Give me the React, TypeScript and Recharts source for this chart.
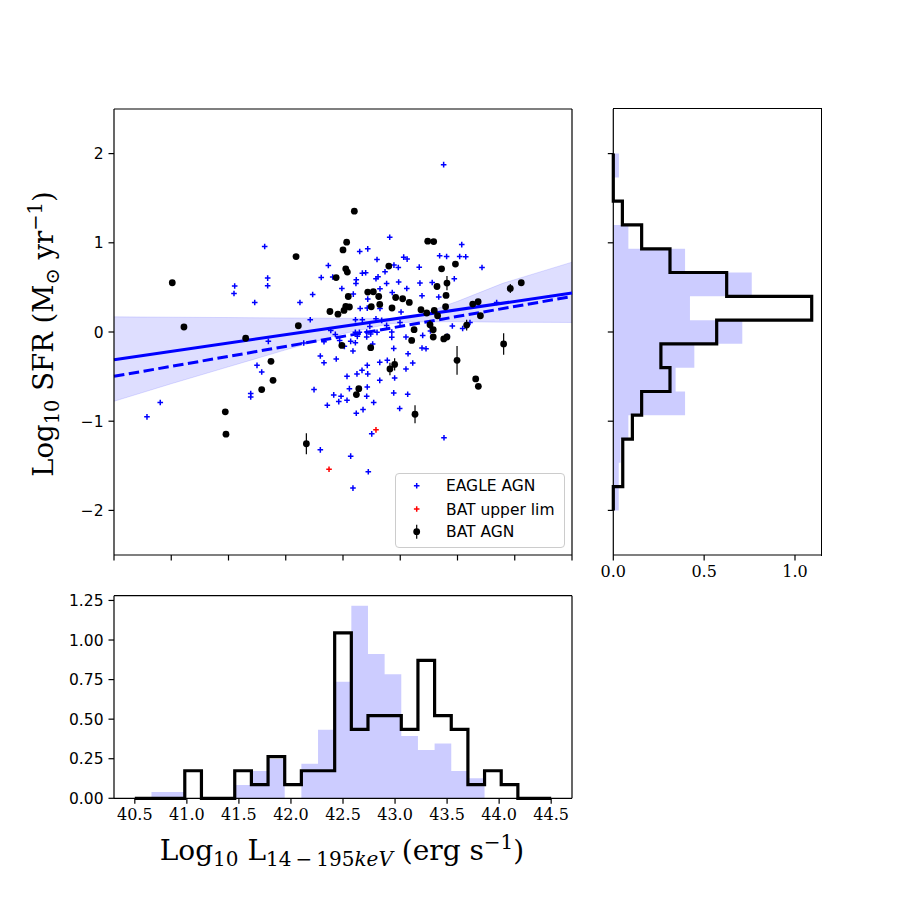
import React from 'react';
import {
  ComposedChart,
  Scatter,
  Line,
  Area,
  XAxis,
  YAxis,
  ErrorBar,
  ReferenceLine,
  Legend,
} from 'recharts';

// ---------------- ticks ----------------
const MAIN_X_TICKS = [40.5, 41.0, 41.5, 42.0, 42.5, 43.0, 43.5, 44.0, 44.5];
const SFR_TICKS = [-2, -1, 0, 1, 2];
const LUM_TICKS = [40.5, 41.0, 41.5, 42.0, 42.5, 43.0, 43.5, 44.0, 44.5];
const LUM_DENS_TICKS = [0, 0.25, 0.5, 0.75, 1.0, 1.25];
const SFR_DENS_TICKS = [0, 0.5, 1.0];

// ---------------- scatter data (log L, log SFR) ----------------
const eagleAgn: [number, number][] = [
  [41.816, 0.958], [41.554, 0.515], [41.548, 0.432], [41.842, 0.604], [41.842, 0.518],
  [41.729, 0.331], [42.124, 0.331], [42.235, 0.421], [42.214, 0.138], [42.31, 0.611],
  [42.372, 0.745], [42.41, 0.616], [42.49, 0.488], [41.848, -0.105], [42.157, -0.123],
  [42.613, 0.544], [42.616, 0.585], [42.646, 0.902], [42.716, 0.932], [42.669, 0.66],
  [42.698, 0.664], [42.59, 0.425], [42.65, 0.264], [42.609, 0.138], [42.669, 0.138],
  [42.712, 0.268], [42.393, 0.018], [42.433, -0.027], [42.334, -0.109], [42.471, -0.094],
  [42.608, -0.004], [42.625, -0.049], [42.643, -0.004], [42.707, 0.0], [42.707, -0.056],
  [42.567, -0.105], [42.608, -0.12], [42.512, -0.161],
  [43.379, 1.876], [42.908, 1.063], [43.537, 0.98], [43.344, 0.854], [43.405, 0.846],
  [43.519, 0.846], [43.572, 0.843], [42.797, 0.813], [43.03, 0.839], [43.06, 0.817],
  [43.714, 0.723], [43.166, 0.727], [42.945, 0.75], [42.983, 0.723], [43.472, 0.597],
  [42.788, 0.597], [42.806, 0.619], [42.867, 0.675], [42.881, 0.544], [42.986, 0.56],
  [43.057, 0.488], [42.93, 0.443], [43.172, 0.548], [43.279, 0.555], [43.19, 0.406],
  [43.336, 0.392], [42.823, 0.264], [43.007, 0.224], [42.788, 0.149], [42.838, 0.13],
  [42.998, 0.107], [43.455, 0.067], [43.545, 0.04], [43.609, 0.107], [43.842, 0.331],
  [42.823, 0.485], [42.881, 0.074], [43.411, -0.049], [43.19, -0.179], [42.734, 0.063],
  [42.742, -0.022], [43.264, 0.011],
  [43.05, -0.056], [43.196, -0.038], [43.225, -0.187], [43.068, -0.243], [43.109, -0.347],
  [43.05, -0.414], [42.943, -0.184], [42.926, -0.06], [42.926, 0.0], [42.797, -0.004],
  [42.821, -0.34], [42.887, -0.318], [42.768, -0.791], [42.821, -0.542], [42.951, -0.515],
  [42.943, -0.683], [43.065, -0.698], [42.995, -0.858], [42.751, -1.142], [43.382, -1.186],
  [42.721, -1.567],
  [40.788, -0.951], [40.904, -0.791], [41.694, -0.69], [41.694, -0.728], [41.749, -0.374],
  [41.79, -0.448], [42.247, -0.646], [42.302, -0.269], [42.334, -0.344], [42.363, -0.821],
  [42.419, -0.705], [42.463, -0.78], [42.483, -0.72], [42.535, -0.765], [42.441, -0.302],
  [42.535, -0.497], [42.302, -1.321], [42.556, -0.635], [42.622, -0.47], [42.666, -0.43],
  [42.712, -0.374], [42.716, -0.47], [42.587, -0.213], [42.712, -0.616], [42.707, -0.72],
  [42.616, -0.911], [42.675, -0.87], [42.567, -1.392], [42.587, -1.75], [42.716, 0.369],
  [42.759, -0.134],
];

const batUpperLim: [number, number][] = [
  [42.378, -1.538],
  [42.788, -1.097],
];

// x, y, error
const batAgn: [number, number, number][] = [
  [41.009, 0.552, 0], [41.111, 0.056, 0], [41.65, -0.07, 0], [42.09, 0.846, 0],
  [42.11, 0.07, 0], [42.532, 1.007, 0], [42.5, 0.92, 0], [42.524, 0.708, 0],
  [42.538, 0.672, 0], [42.44, 0.61, 0], [42.546, 0.398, 0], [42.386, 0.23, 0],
  [42.456, 0.2, 0], [42.509, 0.242, 0], [42.524, 0.287, 0], [42.556, 0.28, 0],
  [42.49, -0.15, 0.03], [42.599, 1.354, 0], [42.716, 0.448, 0], [43.24, 1.018, 0],
  [43.292, 1.014, 0], [43.482, 0.761, 0], [42.9, 0.739, 0], [43.361, 0.708, 0],
  [43.408, 0.548, 0.08], [43.321, 0.51, 0], [43.961, 0.488, 0.05], [44.057, 0.552, 0],
  [43.4, 0.41, 0], [42.765, 0.451, 0], [42.812, 0.398, 0], [42.96, 0.387, 0],
  [43.021, 0.373, 0], [43.079, 0.331, 0], [43.633, 0.313, 0], [43.68, 0.339, 0],
  [43.7, 0.182, 0], [42.747, 0.283, 0], [42.821, 0.309, 0], [42.928, 0.269, 0],
  [43.181, 0.25, 0], [43.231, 0.213, 0], [43.297, 0.242, 0], [43.326, 0.182, 0],
  [43.26, 0.082, 0.05], [43.288, 0.026, 0.03], [43.121, 0.026, 0], [43.1, -0.094, 0],
  [43.288, -0.056, 0.03], [43.38, -0.078, 0], [43.408, -0.056, 0], [42.742, -0.176, 0],
  [43.903, -0.134, 0.12], [43.58, 0.078, 0.06], [43.396, 0.283, 0], [41.871, -0.329, 0],
  [41.889, -0.542, 0], [41.79, -0.646, 0], [41.472, -0.895, 0], [41.478, -1.146, 0],
  [42.18, -1.253, 0.117], [42.638, -0.635, 0], [42.617, -0.702, 0], [43.496, -0.318, 0.16],
  [43.659, -0.526, 0], [43.682, -0.609, 0], [42.951, -0.363, 0.07], [42.91, -0.414, 0.07],
  [43.129, -0.922, 0.1],
];

// ---------------- regression fits ----------------
const fitX = [40.5, 44.5];
const fitSolid = [-0.31, 0.436];
const fitDashed = [-0.497, 0.398];
const bandX = [40.5, 41.0, 41.5, 42.0, 42.5, 42.9, 43.1, 43.5, 43.9, 44.5];
const bandLo = [-0.777, -0.58, -0.39, -0.2, -0.02, 0.09, 0.112, 0.115, 0.11, 0.107];
const bandHi = [0.17, 0.166, 0.162, 0.158, 0.154, 0.152, 0.16, 0.344, 0.548, 0.783];

// ---------------- luminosity histogram (density) ----------------
const lumEdges = [
  40.5, 40.66, 40.82, 40.98, 41.14, 41.3, 41.46, 41.62, 41.78, 41.94, 42.1, 42.26, 42.42,
  42.58, 42.74, 42.9, 43.06, 43.22, 43.38, 43.54, 43.7, 43.86, 44.02, 44.18, 44.34, 44.5,
];
const lumEagle = [
  0, 0.04, 0.04, 0, 0, 0, 0.084, 0.173, 0.248, 0, 0.218, 0.433, 0.736, 1.216, 0.911,
  0.783, 0.393, 0.305, 0.347, 0.172, 0.126, 0, 0, 0, 0,
];
const lumBat = [
  0, 0, 0, 0.174, 0, 0, 0.174, 0.087, 0.263, 0.087, 0.174, 0.174, 1.045, 0.435, 0.522,
  0.522, 0.435, 0.871, 0.522, 0.435, 0.087, 0.174, 0.087, 0, 0,
];

// ---------------- SFR histogram (density), bins bottom -> top ----------------
const sfrEdges = [
  -2.0, -1.733, -1.467, -1.2, -0.933, -0.667, -0.4, -0.133, 0.133, 0.4, 0.667, 0.933,
  1.2, 1.467, 1.733, 2.0,
];
const sfrEagle = [0.03, 0.03, 0.04, 0.083, 0.395, 0.343, 0.446, 0.71, 0.422, 0.762, 0.395, 0.083, 0, 0, 0.031];
const sfrBat = [0, 0.052, 0.052, 0.105, 0.156, 0.312, 0.262, 0.569, 1.092, 0.624, 0.312, 0.156, 0.05, 0, 0];

// ---------------- derived tables ----------------
const eagleData = eagleAgn.map(([x, y]) => ({ x, y }));
const upperData = batUpperLim.map(([x, y]) => ({ x, y }));
const batData = batAgn.map(([x, y, err]) => ({ x, y, err }));

const fitData = bandX.map((x, i) => {
  const k = fitX.indexOf(x);
  return {
    x,
    band: [bandLo[i], bandHi[i]],
    solid: k >= 0 ? fitSolid[k] : null,
    dashed: k >= 0 ? fitDashed[k] : null,
  };
});

const lumData = lumEdges.map((x, i) => {
  const k = Math.min(i, lumEagle.length - 1);
  return { x, eagle: lumEagle[k], bat: lumBat[k] };
});

const sfrData = sfrEdges.map((y, i) => {
  const k = Math.min(i, sfrEagle.length - 1);
  return { y, eagle: sfrEagle[k], bat: sfrBat[k] };
});

// ---------------- styles ----------------
const BLUE = '#0000ff';
const SERIF = "'DejaVu Serif', serif";
const SANS = "'DejaVu Sans', sans-serif";
const TICK_LEN = 5.5;
const AXIS_LINE = { stroke: '#000', strokeWidth: 1.2 };
const TICK_LINE = { stroke: '#000', strokeWidth: 1.2 };
const serifTick = { fontFamily: SERIF, fontSize: 16, fill: '#000' };
const sansTick = { fontFamily: SANS, fontSize: 15.5, fill: '#000' };

const fmtSigned = (v: number) => (v < 0 ? `\u2212${Math.abs(v)}` : `${v}`);
const blank = () => '';

const makePlus = (color: string) => (props: any) => {
  const { cx, cy } = props;
  if (cx == null || cy == null) return <g />;
  const h = 2.8;
  return (
    <path
      d={`M${cx - h},${cy}H${cx + h}M${cx},${cy - h}V${cy + h}`}
      stroke={color}
      strokeWidth={1.5}
      fill="none"
    />
  );
};
const BluePlus = makePlus(BLUE);
const RedPlus = makePlus('#ff0000');
const BlackDot = (props: any) => {
  const { cx, cy } = props;
  if (cx == null || cy == null) return <g />;
  return <circle cx={cx} cy={cy} r={3.4} fill="#000" />;
};

const LegendBox = () => {
  const rows = [12.7, 36, 58.7];
  return (
    <div
      style={{
        width: 170,
        height: 75,
        boxSizing: 'border-box',
        border: '1px solid #cccccc',
        borderRadius: 4,
        background: 'rgba(255,255,255,0.8)',
        position: 'relative',
      }}
    >
      <svg width={170} height={75} style={{ position: 'absolute', left: -1, top: -1 }}>
        <path d={`M${21.7 - 2.8},${rows[0]}h5.6M21.7,${rows[0] - 2.8}v5.6`} stroke={BLUE} strokeWidth={1.5} />
        <text x={51} y={rows[0] + 5.6} fontFamily={SANS} fontSize={15.5} fill="#000">EAGLE AGN</text>
        <path d={`M${21.7 - 2.8},${rows[1]}h5.6M21.7,${rows[1] - 2.8}v5.6`} stroke="#ff0000" strokeWidth={1.5} />
        <text x={51} y={rows[1] + 5.6} fontFamily={SANS} fontSize={15.5} fill="#000">BAT upper lim</text>
        <line x1={21.7} x2={21.7} y1={rows[2] - 7} y2={rows[2] + 7} stroke="#000" strokeWidth={1.2} />
        <circle cx={21.7} cy={rows[2]} r={3.4} fill="#000" />
        <text x={51} y={rows[2] + 5.6} fontFamily={SANS} fontSize={15.5} fill="#000">BAT AGN</text>
      </svg>
    </div>
  );
};

export default function App() {
  return (
    <div style={{ position: 'absolute', left: 0, top: 0, width: 913, height: 913, background: '#fff' }}>
      {/* main scatter panel */}
      <div style={{ position: 'absolute', left: 0, top: 0 }}>
        <ComposedChart
          width={600}
          height={580}
          data={fitData}
          margin={{ top: 109, right: 28, bottom: 5, left: 64 }}
        >
          <XAxis
            dataKey="x"
            type="number"
            domain={[40.5, 44.5]}
            ticks={MAIN_X_TICKS}
            interval={0}
            tickFormatter={blank}
            tickSize={TICK_LEN}
            height={20}
            axisLine={AXIS_LINE}
            tickLine={TICK_LINE}
          />
          <YAxis
            dataKey="y"
            type="number"
            domain={[-2.5, 2.5]}
            ticks={SFR_TICKS}
            interval={0}
            width={50}
            tickSize={TICK_LEN}
            tickMargin={5}
            tick={sansTick}
            tickFormatter={fmtSigned}
            axisLine={AXIS_LINE}
            tickLine={TICK_LINE}
          />
          <ReferenceLine x={44.5} stroke="#000" strokeWidth={1.2} ifOverflow="visible" />
          <ReferenceLine y={2.5} stroke="#000" strokeWidth={1.2} ifOverflow="visible" />
          <Area
            dataKey="band"
            type="linear"
            fill={BLUE}
            fillOpacity={0.13}
            stroke={BLUE}
            strokeOpacity={0.12}
            strokeWidth={1}
            isAnimationActive={false}
          />
          <Scatter data={eagleData} shape={BluePlus} isAnimationActive={false} />
          <Line
            dataKey="solid"
            type="linear"
            stroke={BLUE}
            strokeWidth={3}
            dot={false}
            connectNulls
            isAnimationActive={false}
          />
          <Line
            dataKey="dashed"
            type="linear"
            stroke={BLUE}
            strokeWidth={3}
            strokeDasharray="10.5 4.5"
            dot={false}
            connectNulls
            isAnimationActive={false}
          />
          <Scatter data={upperData} shape={RedPlus} isAnimationActive={false} />
          <Scatter data={batData} shape={BlackDot} isAnimationActive={false}>
            <ErrorBar dataKey="err" direction="y" width={0} stroke="#000" strokeWidth={1.2} />
          </Scatter>
          <Legend
            layout="vertical"
            align="center"
            verticalAlign="middle"
            content={() => <LegendBox />}
            wrapperStyle={{ left: 395, top: 473, width: 170, height: 75 }}
          />
        </ComposedChart>
      </div>

      {/* right SFR histogram */}
      <div style={{ position: 'absolute', left: 560, top: 0 }}>
        <ComposedChart
          layout="vertical"
          width={290}
          height={600}
          data={sfrData}
          margin={{ top: 109, right: 28.3, bottom: 15, left: 43.3 }}
        >
          <XAxis
            type="number"
            domain={[0, 1.147]}
            ticks={SFR_DENS_TICKS}
            interval={0}
            height={30}
            tickSize={TICK_LEN}
            tickMargin={5}
            tick={serifTick}
            tickFormatter={(v: number) => v.toFixed(1)}
            axisLine={AXIS_LINE}
            tickLine={TICK_LINE}
          />
          <YAxis
            dataKey="y"
            type="number"
            reversed
            domain={[-2.5, 2.5]}
            ticks={SFR_TICKS}
            interval={0}
            width={10}
            tickSize={TICK_LEN}
            tickFormatter={blank}
            axisLine={AXIS_LINE}
            tickLine={TICK_LINE}
          />
          <Area
            dataKey="eagle"
            type="stepBefore"
            fill={BLUE}
            fillOpacity={0.2}
            stroke="none"
            isAnimationActive={false}
          />
          <Line
            dataKey="bat"
            type="stepBefore"
            stroke="#000"
            strokeWidth={3.2}
            dot={false}
            isAnimationActive={false}
          />
        </ComposedChart>
      </div>
      {/* top and right spines of the SFR histogram frame */}
      <div
        style={{
          position: 'absolute',
          left: 612.7,
          top: 108.4,
          width: 209.6,
          height: 447.2,
          boxSizing: 'border-box',
          borderTop: '1.2px solid #000',
          borderRight: '1.2px solid #000',
          pointerEvents: 'none',
        }}
      />

      {/* bottom luminosity histogram */}
      <div style={{ position: 'absolute', left: 0, top: 560 }}>
        <ComposedChart
          width={600}
          height={300}
          data={lumData}
          margin={{ top: 35.7, right: 28, bottom: 31.7, left: 64 }}
        >
          <XAxis
            dataKey="x"
            type="number"
            domain={[40.3, 44.7]}
            ticks={LUM_TICKS}
            interval={0}
            height={30}
            tickSize={TICK_LEN}
            tickMargin={5}
            tick={serifTick}
            tickFormatter={(v: number) => v.toFixed(1)}
            axisLine={AXIS_LINE}
            tickLine={TICK_LINE}
          />
          <YAxis
            type="number"
            domain={[0, 1.28]}
            ticks={LUM_DENS_TICKS}
            interval={0}
            width={50}
            tickSize={TICK_LEN}
            tickMargin={5}
            tick={sansTick}
            tickFormatter={(v: number) => v.toFixed(2)}
            axisLine={AXIS_LINE}
            tickLine={TICK_LINE}
          />
          <ReferenceLine x={44.7} stroke="#000" strokeWidth={1.2} ifOverflow="visible" />
          <ReferenceLine y={1.28} stroke="#000" strokeWidth={1.2} ifOverflow="visible" />
          <Area
            dataKey="eagle"
            type="stepAfter"
            fill={BLUE}
            fillOpacity={0.2}
            stroke="none"
            isAnimationActive={false}
          />
          <Line
            dataKey="bat"
            type="stepAfter"
            stroke="#000"
            strokeWidth={3.2}
            dot={false}
            isAnimationActive={false}
          />
        </ComposedChart>
      </div>

      {/* axis titles */}
      <svg
        width={913}
        height={913}
        style={{ position: 'absolute', left: 0, top: 0, pointerEvents: 'none' }}
      >
        <text
          transform="translate(53,334) rotate(-90)"
          textAnchor="middle"
          fontFamily={SERIF}
          fontSize={27.5}
          fill="#000"
        >
          Log<tspan dy={6} fontSize={19.5}>10</tspan>
          <tspan dy={-6}> SFR (M</tspan>
          <tspan dy={6} fontSize={19.5}>⊙</tspan>
          <tspan dy={-6}> yr</tspan>
          <tspan dy={-11} fontSize={19.5}>−1</tspan>
          <tspan dy={11}>)</tspan>
        </text>
        <text x={342} y={860} textAnchor="middle" fontFamily={SERIF} fontSize={28} fill="#000">
          Log<tspan dy={6} fontSize={20}>10</tspan>
          <tspan dy={-6}> L</tspan>
          <tspan dy={6} fontSize={20}>14{'\u2009'}−{'\u2009'}195</tspan>
          <tspan fontSize={20} fontStyle="italic">keV</tspan>
          <tspan dy={-6}> (erg s</tspan>
          <tspan dy={-11} fontSize={20}>−1</tspan>
          <tspan dy={11}>)</tspan>
        </text>
      </svg>
    </div>
  );
}
